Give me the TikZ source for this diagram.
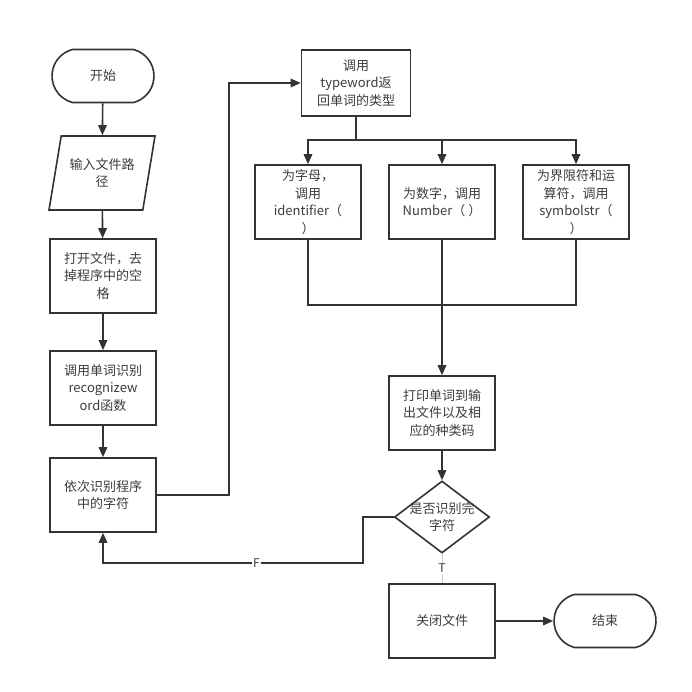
\documentclass[tikz,border=0pt]{standalone}
\usepackage{fontspec}
\setmainfont{Noto Sans CJK SC}
\usepackage{tikz}
\usetikzlibrary{shapes,arrows.meta,positioning}
\definecolor{LineGray}{RGB}{51, 51, 51}
\definecolor{TextGray}{RGB}{60, 60, 60}

\tikzset{
  base/.style={draw=LineGray, line width=1.6pt, text=TextGray, align=center,
    font=\fontsize{13}{17.5}\selectfont, inner sep=2pt},
  proc/.style={base, rectangle, minimum width=106pt, minimum height=74pt},
  term/.style={base, rounded rectangle, rounded rectangle arc length=150,
    minimum width=106pt, minimum height=53pt},
  io/.style={base, trapezium, trapezium left angle=70, trapezium right angle=110,
    trapezium stretches body=true, minimum width=106pt, minimum height=74pt},
  decide/.style={base, diamond, minimum width=95pt, minimum height=72pt, inner sep=0pt},
  line/.style={draw=LineGray, line width=1.6pt},
  arr/.style={line, -{Triangle[length=10pt,width=8.5pt]}},
}

\begin{document}
\begin{tikzpicture}[x=1pt, y=-1pt]
    \useasboundingbox (0,0) rectangle (692,692);

    % Left column
    \node[term] (start) at (103,76) {开始};
    \node[io] (input) at (102,173) {输入文件路\\径};
    \node[proc] (open) at (103,276) {打开文件，去\\掉程序中的空\\格};
    \node[proc] (call) at (103,388) {调用单词识别\\recognizew\\ord函数};
    \node[proc] (scan) at (103,495) {依次识别程序\\中的字符};

    % Word type
    \node[proc, minimum width=109pt, minimum height=66pt] (type) at (356,83)
      {调用\\typeword返\\回单词的类型};
    \node[proc] (alpha) at (308,202) {为字母，\\调用\\identifier（\\）};
    \node[proc] (num) at (442,202) {为数字，调用\\Number（ ）};
    \node[proc] (sym) at (576,202) {为界限符和运\\算符，调用\\symbolstr（\\）};

    % Output and check
    \node[proc] (print) at (442,413) {打印单词到输\\出文件以及相\\应的种类码};
    \node[decide, label={[text=TextGray, align=center,
      font=\fontsize{13}{17.5}\selectfont]center:是否识别完\\字符}] (check) at (442,517) {};
    \node[proc] (close) at (442,621) {关闭文件};
    \node[term] (stop) at (605,621) {结束};

    % Bends
    \coordinate (jog) at (229,495);
    \coordinate (split) at (356,140);
    \coordinate (join) at (442,305);
    \coordinate (back) at (363,563);

    % Connectors
    \draw[arr] (start) -- (input);
    \draw[arr] (input) -- (open);
    \draw[arr] (open) -- (call);
    \draw[arr] (call) -- (scan);
    \draw[arr] (scan.east) -- (jog) |- (type.west);

    \draw[line] (type.south) -- (split);
    \draw[arr] (split) -| (alpha.north);
    \draw[arr] (split) -| (num.north);
    \draw[arr] (split) -| (sym.north);

    \draw[line] (alpha.south) |- (join);
    \draw[line] (sym.south) |- (join);
    \draw[arr] (num.south) -- (print.north);

    \draw[arr] (print) -- (check);
    \draw[line, draw=LineGray!25, line width=0.6pt] (check.south) --
      node[fill=white, text=TextGray, inner sep=1pt, font=\fontsize{12}{14}\selectfont] {T} (close.north);
    \draw[arr] (close) -- (stop);

    \draw[arr] (check.west) -| (back) --
      node[pos=0.41, fill=white, text=TextGray, inner sep=1pt, font=\fontsize{12}{14}\selectfont] {F}
      (scan.south |- back) -- (scan.south);
  \end{tikzpicture}
\end{document}
